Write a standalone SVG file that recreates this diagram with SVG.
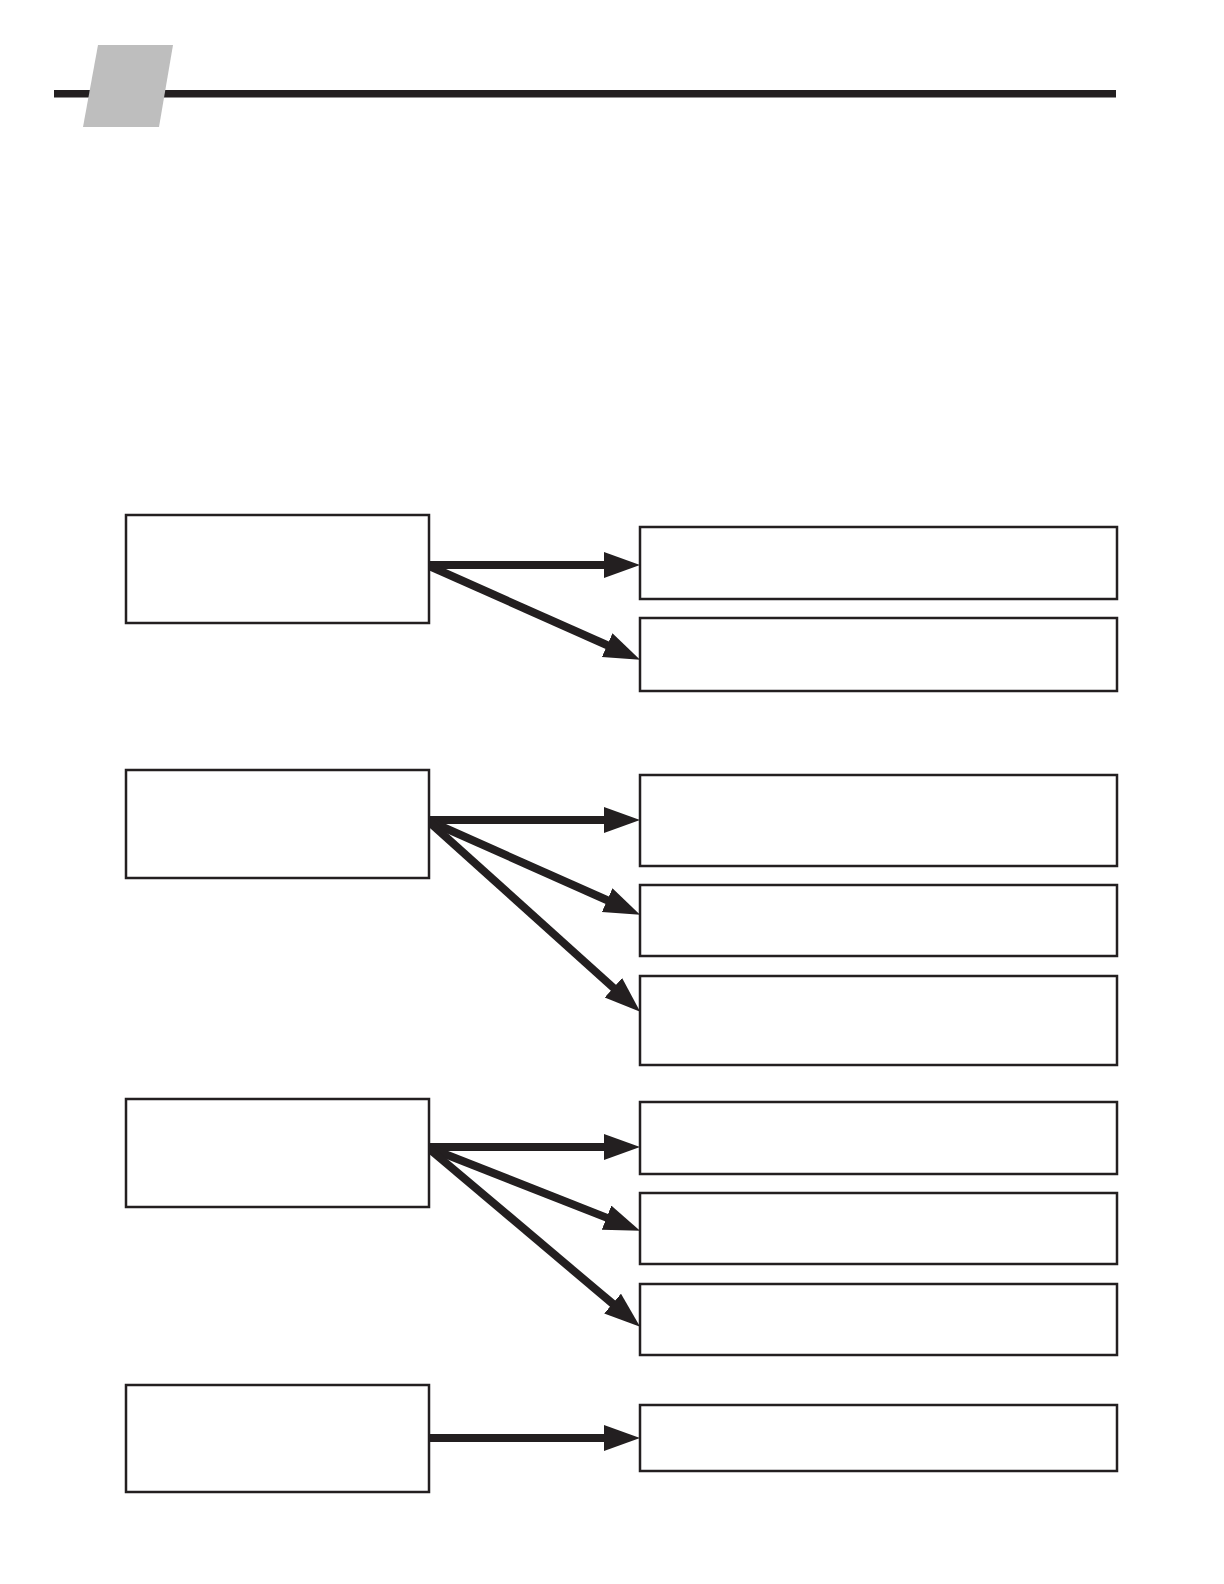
<svg xmlns="http://www.w3.org/2000/svg" width="1224" height="1584" viewBox="0 0 1224 1584">
<style>
.box{fill:#fff;stroke:#231f20;stroke-width:2.5}
.conn{stroke:#231f20;stroke-width:8;fill:none;marker-end:url(#ah)}
</style>
<defs>
<marker id="ah" markerUnits="userSpaceOnUse" markerWidth="38" markerHeight="28" refX="2" refY="13" orient="auto" viewBox="0 0 38 28">
<path d="M0,0 L36,13 L0,26 z" fill="#231f20"/>
</marker>
</defs>
<rect width="1224" height="1584" fill="#fff"/>
<g id="header">
<rect x="54" y="90" width="1062" height="7.5" fill="#231f20"/>
<polygon points="98,45 173,45 159,127 83,127" fill="#bebebe"/>
</g>
<g id="connectors">
<line class="conn" x1="427" y1="565" x2="606" y2="565"/>
<line class="conn" x1="427" y1="565" x2="609.0" y2="646.0"/>
<line class="conn" x1="427" y1="820" x2="606" y2="820"/>
<line class="conn" x1="427" y1="820" x2="609.0" y2="901.0"/>
<line class="conn" x1="427" y1="820" x2="614.9" y2="989.1"/>
<line class="conn" x1="427" y1="1147" x2="606" y2="1147"/>
<line class="conn" x1="427" y1="1147" x2="608.4" y2="1218.4"/>
<line class="conn" x1="427" y1="1147" x2="614.1" y2="1304.9"/>
<line class="conn" x1="427" y1="1438" x2="606" y2="1438"/>
</g>
<g id="nodeA"><rect class="box" x="126" y="515" width="303" height="108"/></g>
<g id="nodeB"><rect class="box" x="126" y="770" width="303" height="108"/></g>
<g id="nodeC"><rect class="box" x="126" y="1099" width="303" height="108"/></g>
<g id="nodeD"><rect class="box" x="126" y="1385" width="303" height="107"/></g>
<g id="nodeR1"><rect class="box" x="640" y="527" width="477" height="72"/></g>
<g id="nodeR2"><rect class="box" x="640" y="618" width="477" height="73"/></g>
<g id="nodeR3"><rect class="box" x="640" y="775" width="477" height="91"/></g>
<g id="nodeR4"><rect class="box" x="640" y="885" width="477" height="71"/></g>
<g id="nodeR5"><rect class="box" x="640" y="976" width="477" height="89"/></g>
<g id="nodeR6"><rect class="box" x="640" y="1102" width="477" height="72"/></g>
<g id="nodeR7"><rect class="box" x="640" y="1193" width="477" height="71"/></g>
<g id="nodeR8"><rect class="box" x="640" y="1284" width="477" height="71"/></g>
<g id="nodeR9"><rect class="box" x="640" y="1405" width="477" height="66"/></g>
</svg>
